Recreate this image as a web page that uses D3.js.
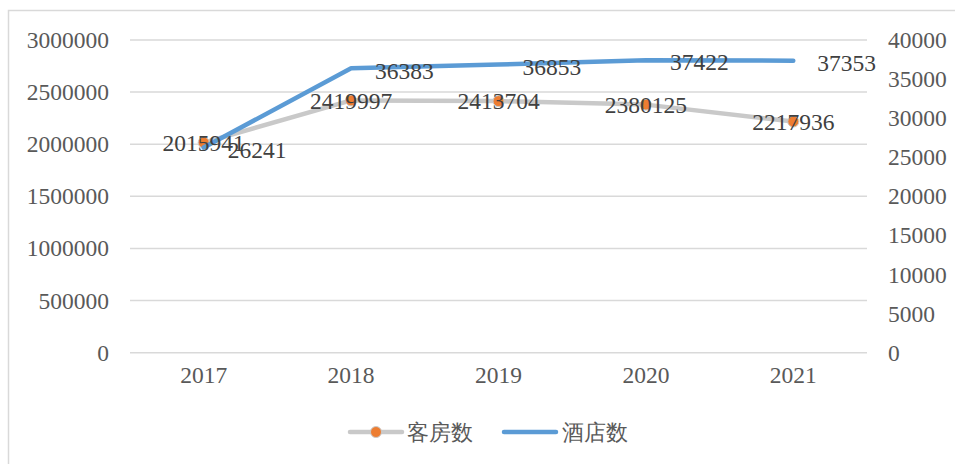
<!DOCTYPE html>
<html>
<head>
<meta charset="utf-8">
<script src="https://cdn.jsdelivr.net/npm/d3@7"></script>
<style>
  body { margin: 0; background: #fff; }
  text { font-family: "Liberation Serif", "Times New Roman", serif; }
</style>
</head>
<body>
<div id="chart"></div>
<script>
// data
let years = ["2017", "2018", "2019", "2020", "2021"];
let rooms = [2015941, 2419997, 2413704, 2380125, 2217936];   // 客房数 (left axis)
let hotels = [26241, 36383, 36853, 37422, 37353];            // 酒店数 (right axis)
let leftTicks = [0, 500000, 1000000, 1500000, 2000000, 2500000, 3000000];
let rightTicks = [0, 5000, 10000, 15000, 20000, 25000, 30000, 35000, 40000];

let width = 955, height = 464;
let plot = { left: 130, right: 867, top: 40, bottom: 352.7 };
let fs = 23.5;

let svg = d3.select('#chart').append('svg')
  .attr('width', width)
  .attr('height', height);

// outer frame
svg.append('rect')
  .attr('x', 8.5).attr('y', 10.5)
  .attr('width', 960).attr('height', 470)
  .attr('fill', 'none')
  .attr('stroke', '#d9d9d9')
  .attr('stroke-width', 1.5);

let x = d3.scaleBand()
  .domain(years)
  .range([plot.left, plot.right]);

let yL = d3.scaleLinear().domain([0, 3000000]).range([plot.bottom, plot.top]);
let yR = d3.scaleLinear().domain([0, 40000]).range([plot.bottom, plot.top]);

let cx = d => x(d) + x.bandwidth() / 2;

// gridlines
svg.append('g')
  .selectAll('line')
  .data(leftTicks)
  .enter().append('line')
  .attr('x1', plot.left).attr('x2', plot.right)
  .attr('y1', d => yL(d)).attr('y2', d => yL(d))
  .attr('stroke', '#d9d9d9')
  .attr('stroke-width', 1.5);

// left axis
let axL = svg.append('g')
  .attr('transform', 'translate(' + plot.left + ',0)')
  .call(d3.axisLeft(yL).tickValues(leftTicks).tickSize(0).tickPadding(21).tickFormat(d3.format('d')));
axL.select('.domain').remove();
axL.selectAll('text')
  .attr('font-family', '"Liberation Serif", serif')
  .attr('font-size', fs)
  .attr('fill', '#595959');

// right axis
let axR = svg.append('g')
  .attr('transform', 'translate(' + plot.right + ',0)')
  .call(d3.axisRight(yR).tickValues(rightTicks).tickSize(0).tickPadding(21).tickFormat(d3.format('d')));
axR.select('.domain').remove();
axR.selectAll('text')
  .attr('font-family', '"Liberation Serif", serif')
  .attr('font-size', fs)
  .attr('fill', '#595959');

// x axis labels
let axX = svg.append('g')
  .attr('transform', 'translate(0,' + plot.bottom + ')')
  .call(d3.axisBottom(x).tickSize(0).tickPadding(14));
axX.select('.domain').remove();
axX.selectAll('text')
  .attr('font-family', '"Liberation Serif", serif')
  .attr('font-size', fs)
  .attr('fill', '#595959');

// grey line + orange markers (rooms)
let lineL = d3.line().x((d, i) => cx(years[i])).y(d => yL(d));
svg.append('path')
  .datum(rooms)
  .attr('d', lineL)
  .attr('fill', 'none')
  .attr('stroke', '#c9c9c9')
  .attr('stroke-width', 4.5)
  .attr('stroke-linejoin', 'round')
  .attr('stroke-linecap', 'round');

svg.selectAll('.mk')
  .data(rooms)
  .enter().append('circle').classed('mk', true)
  .attr('cx', (d, i) => cx(years[i]))
  .attr('cy', d => yL(d))
  .attr('r', 5.5)
  .attr('fill', '#ed7d31')
  .attr('stroke', '#c9c9c9')
  .attr('stroke-width', 1);

// blue line (hotels)
let lineR = d3.line().x((d, i) => cx(years[i])).y(d => yR(d));
svg.append('path')
  .datum(hotels)
  .attr('d', lineR)
  .attr('fill', 'none')
  .attr('stroke', '#5b9bd5')
  .attr('stroke-width', 4.5)
  .attr('stroke-linejoin', 'round')
  .attr('stroke-linecap', 'round');

// data labels
svg.selectAll('.lblL')
  .data(rooms)
  .enter().append('text').classed('lblL', true)
  .attr('x', (d, i) => cx(years[i]))
  .attr('y', d => yL(d))
  .attr('dy', '0.35em')
  .attr('text-anchor', 'middle')
  .attr('font-size', fs)
  .attr('fill', '#404040')
  .text(d => d);

svg.selectAll('.lblR')
  .data(hotels)
  .enter().append('text').classed('lblR', true)
  .attr('x', (d, i) => cx(years[i]) + 24)
  .attr('y', d => yR(d) + 2)
  .attr('dy', '0.35em')
  .attr('text-anchor', 'start')
  .attr('font-size', fs)
  .attr('fill', '#404040')
  .text(d => d);

// legend
let lg = svg.append('g').attr('transform', 'translate(0,432)');
lg.append('line')
  .attr('x1', 350).attr('x2', 402).attr('y1', 0).attr('y2', 0)
  .attr('stroke', '#c9c9c9').attr('stroke-width', 4.5).attr('stroke-linecap', 'round');
lg.append('circle')
  .attr('cx', 376).attr('cy', 0).attr('r', 5.5)
  .attr('fill', '#ed7d31').attr('stroke', '#c9c9c9').attr('stroke-width', 1);
lg.append('text')
  .attr('x', 407).attr('y', 0).attr('dy', '0.35em')
  .attr('font-family', '"Noto Sans CJK SC", serif')
  .attr('font-size', 22)
  .attr('fill', '#595959')
  .text('客房数');
lg.append('line')
  .attr('x1', 504).attr('x2', 556).attr('y1', 0).attr('y2', 0)
  .attr('stroke', '#5b9bd5').attr('stroke-width', 4.5).attr('stroke-linecap', 'round');
lg.append('text')
  .attr('x', 562).attr('y', 0).attr('dy', '0.35em')
  .attr('font-family', '"Noto Sans CJK SC", serif')
  .attr('font-size', 22)
  .attr('fill', '#595959')
  .text('酒店数');
</script>
</body>
</html>
